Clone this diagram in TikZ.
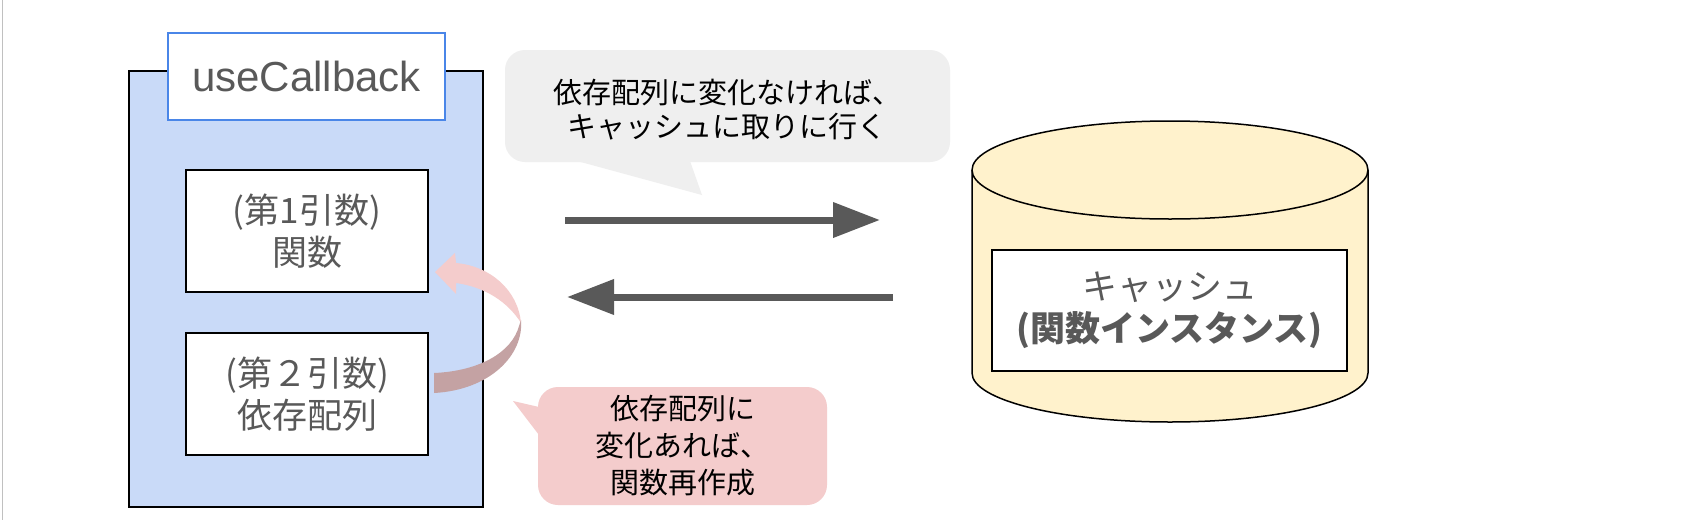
\documentclass[tikz,border=0pt]{standalone}
\usepackage{fontspec}
\setmainfont{Liberation Sans}
\newfontfamily\jp{Noto Sans CJK JP}
\usetikzlibrary{arrows.meta}
\definecolor{bluefill}{HTML}{C9DAF8}
\definecolor{ucblue}{HTML}{4A86E8}
\definecolor{textgray}{HTML}{595959}
\definecolor{arrowgray}{HTML}{595959}
\definecolor{cylfill}{HTML}{FFF2CC}
\definecolor{pinkfill}{HTML}{F4CCCC}
\definecolor{pinkdark}{RGB}{196,162,163}
\definecolor{calloutgray}{HTML}{EFEFEF}
\definecolor{edgegray}{HTML}{C0C0C0}
\begin{document}
\begin{tikzpicture}[x=0.5pt,y=-0.5pt,
  argbox/.style={draw=black, line width=1pt, fill=white, minimum width=121pt, minimum height=61pt,
    inner sep=0pt, align=center, text=textgray, font=\jp\fontsize{17.5pt}{21pt}\selectfont},
  callouttext/.style={inner sep=0pt, align=center, text=black},
  bigarrow/.style={draw=arrowgray, line width=3.5pt, -{Triangle[length=23.5pt,width=17pt]}}
]
\useasboundingbox (0,0) rectangle (1708,520);
\fill[white] (0,0) rectangle (1708,520);
\draw[edgegray, line width=0.75pt] (2.5,0) -- (2.5,520);

% left container
\node[draw=black, line width=0.75pt, fill=bluefill, minimum width=177pt, minimum height=218pt, inner sep=0pt] (outer) at (306,289) {};
\node[draw=ucblue, line width=0.75pt, fill=white, minimum width=138.5pt, minimum height=43.5pt, inner sep=0pt,
  text=textgray, font=\fontsize{21pt}{25pt}\selectfont] (uc) at (306.5,76.5) {useCallback};
\node[argbox] (arg1) at (307,231) {(第1引数)\\関数};
\node[argbox] (arg2) at (307,394) {(第２引数)\\依存配列};

% curved arrow (arg2 -> arg1)
\fill[pinkfill] (435,272) -- (455,253) -- (456,263) .. controls (490,266) and (518,290) .. (521,323)
  .. controls (508,302) and (485,287) .. (456,283) -- (456,294) -- cycle;
\fill[pinkdark] (521,320) .. controls (524,355) and (490,390) .. (434,393) -- (434,373)
  .. controls (480,371) and (512,352) .. (519,326) -- cycle;

% gray callout
\fill[calloutgray, rounded corners=10pt] (505,50) rectangle (950,162);
\fill[calloutgray] (577,161) -- (702,195) -- (690,161) -- cycle;
\node[callouttext, font=\jp\fontsize{14.5pt}{17pt}\selectfont] (note1) at (727,110) {依存配列に変化なければ、\\キャッシュに取りに行く};

% arrows
\coordinate (r1) at (565,220);
\coordinate (r2) at (880,220);
\draw[bigarrow] (r1) -- (r2);
\coordinate (l1) at (893,297);
\coordinate (l2) at (567,297);
\draw[bigarrow] (l1) -- (l2);

% cylinder
\filldraw[fill=cylfill, draw=black, line width=0.75pt] (972,170) -- (972,373)
  arc[start angle=180, end angle=360, x radius=99pt, y radius=24.5pt] -- (1368,170)
  arc[start angle=0, end angle=180, x radius=99pt, y radius=24.5pt] -- cycle;
\draw[black, line width=0.75pt] (972,170) arc[start angle=180, end angle=360, x radius=99pt, y radius=24.5pt];
\node[draw=black, line width=0.75pt, fill=white, minimum width=177.5pt, minimum height=60.5pt, inner sep=0pt,
  align=center, text=textgray, font=\jp\fontsize{17.5pt}{21pt}\selectfont] (cache) at (1169.5,310.5)
  {キャッシュ\\\textbf{(関数インスタンス)}};

% pink callout
\fill[pinkfill, rounded corners=10pt] (538,387) rectangle (827,505);
\fill[pinkfill] (539,407) -- (513,401) -- (539,435) -- cycle;
\node[callouttext, font=\jp\fontsize{14.5pt}{18.5pt}\selectfont] (note2) at (682.5,446) {依存配列に\\変化あれば、\\関数再作成};
\end{tikzpicture}
\end{document}
